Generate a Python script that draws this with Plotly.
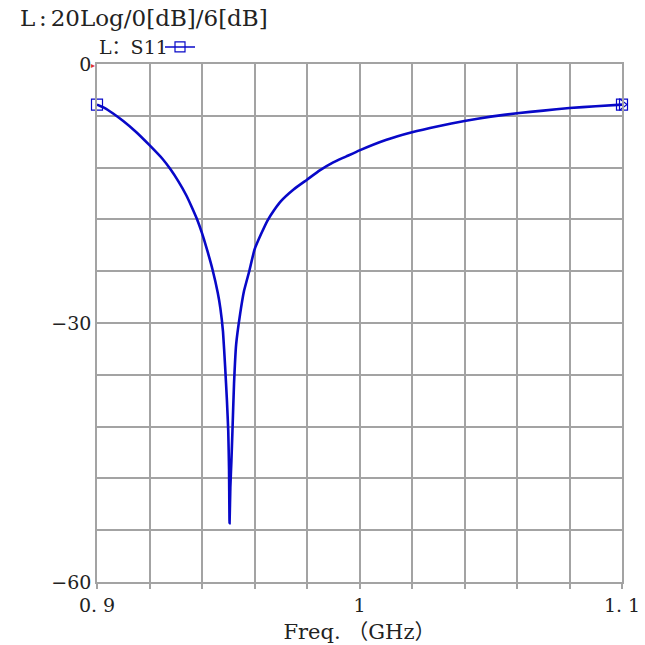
import plotly.graph_objects as go

# S11
freq_ghz = [
    0.900, 0.903, 0.906, 0.910, 0.915, 0.920, 0.925, 0.928, 0.931, 0.934,
    0.936, 0.938, 0.940, 0.942, 0.944, 0.946, 0.947, 0.948, 0.9488, 0.9495,
    0.9500, 0.9503, 0.9505, 0.9508, 0.9512, 0.9516, 0.9522, 0.9530, 0.9545, 0.956,
    0.958, 0.960, 0.9625, 0.965, 0.9675, 0.970, 0.975, 0.980, 0.985, 0.990,
    0.995, 1.000, 1.010, 1.020, 1.030, 1.040, 1.050, 1.060, 1.070, 1.080,
    1.090, 1.100,
]
s11_db = [
    -4.7, -5.1, -5.7, -6.6, -7.9, -9.4, -11.0, -12.2, -13.6, -15.2,
    -16.5, -17.9, -19.6, -21.6, -23.8, -26.5, -28.3, -31.0, -35.0, -39.0,
    -42.5, -47.0, -53.2, -49.0, -46.0, -42.5, -37.0, -32.5, -29.0, -26.3,
    -24.0, -21.5, -19.7, -18.1, -16.9, -15.9, -14.5, -13.4, -12.3, -11.4,
    -10.7, -10.0, -8.8, -7.9, -7.2, -6.6, -6.1, -5.7, -5.4, -5.1,
    -4.9, -4.7,
]

x_ticks = [0.90, 0.92, 0.94, 0.96, 0.98, 1.00, 1.02, 1.04, 1.06, 1.08, 1.10]
x_labels = ["0. 9", "", "", "", "", "1", "", "", "", "", "1. 1"]
y_ticks = [0, -6, -12, -18, -24, -30, -36, -42, -48, -54, -60]
y_labels = ["0", "", "", "", "", "\u221230", "", "", "", "", "\u221260"]

BLUE = "#0808c8"
GRID = "#a3a3a3"
TXT = "#222222"
FONT = "DejaVu Serif, Noto Sans CJK SC, serif"

n = len(freq_ghz)
end_size = [11 if i in (0, n - 1) else 0 for i in range(n)]
end_opacity = [1 if i in (0, n - 1) else 0 for i in range(n)]

fig = go.Figure()
fig.add_trace(go.Scatter(
    x=freq_ghz, y=s11_db, mode="lines+markers", showlegend=False,
    line=dict(color=BLUE, width=2.6, shape="spline", smoothing=0.4),
    marker=dict(symbol="square-open", size=end_size, opacity=end_opacity,
                color=BLUE, line=dict(color=BLUE, width=1.2)),
    cliponaxis=False,
))
# arrow on the last marker
fig.add_trace(go.Scatter(
    x=freq_ghz[-1:], y=s11_db[-1:], mode="markers", showlegend=False,
    marker=dict(symbol="triangle-right-open", size=10, color=BLUE,
                line=dict(color=BLUE, width=1.2)),
    cliponaxis=False,
))
# legend key only
fig.add_trace(go.Scatter(
    x=[None], y=[None], mode="lines+markers", name="",
    line=dict(color=BLUE, width=1.5),
    marker=dict(symbol="square-open", size=10, color=BLUE,
                line=dict(color=BLUE, width=1.2)),
))

axis_common = dict(
    showgrid=True, gridcolor=GRID, gridwidth=1.5,
    showline=True, linecolor=GRID, linewidth=1.5, mirror=True,
    zeroline=False, automargin=False,
    tickfont=dict(family=FONT, size=19, color=TXT),
)
fig.update_xaxes(
    range=[0.9, 1.1], tickmode="array", tickvals=x_ticks, ticktext=x_labels,
    ticks="outside", ticklen=5, tickcolor=GRID, tickwidth=1.5,
    title=dict(text="Freq.\u00a0\uff08GHz\uff09", font=dict(family=FONT, size=21, color=TXT),
               standoff=10),
    **axis_common,
)
fig.update_yaxes(
    range=[-60, 0], tickmode="array", tickvals=y_ticks, ticktext=y_labels,
    ticks="", ticklabelstandoff=0,
    **axis_common,
)

fig.add_annotation(
    text="L\u2006:\u200620Log/0[dB]/6[dB]", xref="paper", yref="paper",
    x=-0.15, y=1.0888, xanchor="left", yanchor="middle", showarrow=False,
    font=dict(family=FONT, size=23, color=TXT),
)
fig.add_annotation(
    text="L\uff1aS11", xref="paper", yref="paper",
    x=0.0, y=1.033, xanchor="left", yanchor="middle", showarrow=False,
    font=dict(family=FONT, size=19, color=TXT),
)
# small red origin marker
fig.add_annotation(
    text="\u25b8", xref="paper", yref="paper", x=0, y=1,
    xanchor="right", yanchor="middle", showarrow=False,
    font=dict(size=8, color="#e03030"),
)

fig.update_layout(
    width=645, height=645,
    margin=dict(l=97, r=23, t=64, b=63),
    paper_bgcolor="white", plot_bgcolor="white",
    showlegend=True,
    legend=dict(x=0.12, y=1.033, xanchor="left", yanchor="middle",
                bgcolor="rgba(0,0,0,0)", itemwidth=30,
                font=dict(family=FONT, size=12)),
)

fig.write_html("out.html", config={"displayModeBar": False},
               post_script="document.body.style.margin='0';")
